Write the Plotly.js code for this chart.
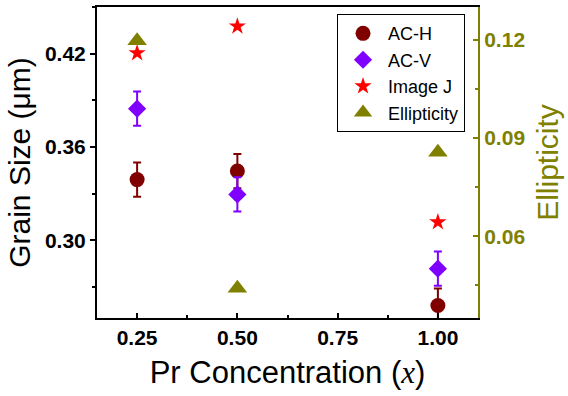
<!DOCTYPE html>
<html>
<head>
<meta charset="utf-8">
<script src="https://cdn.plot.ly/plotly-3.0.1.min.js"></script>
<style>html,body{margin:0;padding:0;background:#fff}#chart{width:568px;height:396px}</style>
</head>
<body>
<div id="chart"></div>
<script>
const concentration = [0.25, 0.50, 1.00];
const acH = [0.339, 0.3445, 0.258];
const acHErr = [0.011, 0.011, 0.011];
const acV = [0.3846, 0.3295, 0.2817];
const acVErr = [0.011, 0.011, 0.011];
const imageJ = [0.4204, 0.4376, 0.3117];
const ellipticity = [0.1197, 0.0441, 0.0856];
const xTicks = [0.25, 0.50, 0.75, 1.00];
const xTickText = ['0.25', '0.50', '0.75', '1.00'];

const FONT = 'Arial, "Liberation Sans", sans-serif';
const OLIVE = '#808000';

const traces = [
  {x: concentration, y: acH, name: 'AC-H', mode: 'markers', type: 'scatter',
   marker: {symbol: 'circle', size: 15, color: '#800000'},
   error_y: {type: 'data', array: acHErr, visible: true, color: '#800000', thickness: 2, width: 4}},
  {x: concentration, y: acV, name: 'AC-V', mode: 'markers', type: 'scatter',
   marker: {symbol: 'diamond', size: 14, color: '#8000FF'},
   error_y: {type: 'data', array: acVErr, visible: true, color: '#8000FF', thickness: 2, width: 4}},
  {x: concentration, y: imageJ, name: 'Image J', mode: 'markers', type: 'scatter',
   marker: {symbol: 'star', size: 13, color: '#FF0000'}},
  {x: concentration, y: ellipticity, name: 'Ellipticity', mode: 'markers', type: 'scatter', yaxis: 'y2',
   marker: {symbol: 'triangle-up', size: 17, color: OLIVE}}
];

const layout = {
  width: 568, height: 396,
  margin: {l: 97, r: 90, t: 7, b: 78},
  paper_bgcolor: '#fff', plot_bgcolor: '#fff',
  font: {family: FONT, color: '#000'},
  showlegend: true,
  legend: {x: 0.63, y: 0.977, xanchor: 'left', yanchor: 'top',
           bordercolor: '#000', borderwidth: 1, bgcolor: '#fff',
           font: {size: 18, family: FONT}, itemwidth: 40},
  xaxis: {
    range: [0.15, 1.10], tickvals: xTicks, ticktext: xTickText,
    showline: true, linecolor: '#000', linewidth: 2, mirror: true,
    ticks: 'inside', ticklen: 5, tickwidth: 2, tickcolor: '#000',
    minor: {tickvals: [0.375, 0.625, 0.875], ticks: 'inside', ticklen: 3, tickwidth: 2, tickcolor: '#000'},
    showgrid: false, zeroline: false,
    tickfont: {size: 21, weight: 'bold', family: FONT},
    title: {text: 'Pr Concentration (<span style="font-family:\'Liberation Serif\',\'Times New Roman\',serif"><i>x</i></span>)',
            font: {size: 31, family: FONT}, standoff: 13}
  },
  yaxis: {
    range: [0.25, 0.45], tick0: 0.30, dtick: 0.06, tickformat: '.2f',
    showline: true, linecolor: '#000', linewidth: 2,
    ticks: 'outside', ticklen: 5, tickwidth: 2, tickcolor: '#000',
    minor: {dtick: 0.03, tick0: 0.27, ticks: 'outside', ticklen: 3, tickwidth: 2, tickcolor: '#000'},
    showgrid: false, zeroline: false,
    tickfont: {size: 21, weight: 'bold', family: FONT},
    title: {text: 'Grain Size (μm)', font: {size: 30, family: FONT}, standoff: 5}
  },
  yaxis2: {
    overlaying: 'y', side: 'right', anchor: 'x',
    range: [0.035, 0.13], tick0: 0.06, dtick: 0.03, tickformat: '.2f',
    showline: true, linecolor: OLIVE, linewidth: 2,
    ticks: 'inside', ticklen: 5, tickwidth: 2, tickcolor: OLIVE,
    minor: {dtick: 0.015, tick0: 0.045, ticks: 'inside', ticklen: 3, tickwidth: 2, tickcolor: OLIVE},
    showgrid: false, zeroline: false,
    tickfont: {size: 21, weight: 'bold', family: FONT, color: OLIVE},
    title: {text: 'Ellipticity', font: {size: 30, family: FONT, color: OLIVE}, standoff: 13}
  }
};

Plotly.newPlot('chart', traces, layout, {displayModeBar: false, staticPlot: true});
</script>
</body>
</html>
